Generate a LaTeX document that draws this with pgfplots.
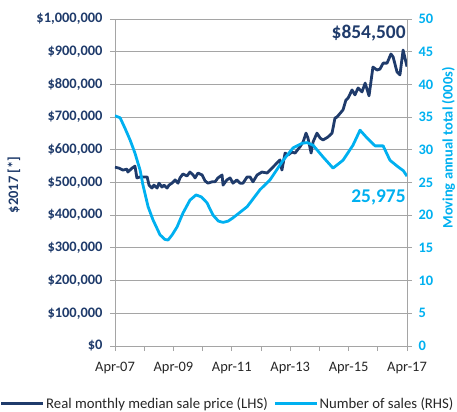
\documentclass[border=0pt]{standalone}
\usepackage{pgfplots}
\pgfplotsset{compat=1.18}
\usepackage{fontspec}
\setmainfont{Carlito}
\definecolor{dblue}{RGB}{31,59,107}
\definecolor{lblue}{RGB}{0,176,240}
\definecolor{gridc}{RGB}{165,165,165}
\begin{document}
\begin{tikzpicture}
\begin{axis}[name=ax1, at={(0,0)}, anchor=south west, scale only axis,
  width=292bp, height=327bp,
  xmin=0, xmax=120, ymin=0, ymax=1000000,
  axis x line*=bottom, axis y line*=left,
  axis line style={draw=gridc, line width=0.9bp},
  xtick={0,12,...,120},
  xticklabels={Apr-07,,Apr-09,,Apr-11,,Apr-13,,Apr-15,,Apr-17},
  ytick={0,100000,...,1000000},
  yticklabels={{\$0},{\$100,000},{\$200,000},{\$300,000},{\$400,000},{\$500,000},{\$600,000},{\$700,000},{\$800,000},{\$900,000},{\$1,000,000}},
  scaled y ticks=false,
  ymajorgrids, grid style={draw=gridc, line width=0.9bp},
  tick style={draw=gridc, line width=0.9bp},
  tick align=outside, major tick length=5bp,
  yticklabel style={font=\fontsize{14.5}{16}\selectfont\bfseries, text=dblue, xshift=-4bp},
  xticklabel style={font=\fontsize{14.5}{16}\selectfont, text=black!85, yshift=-8bp},
]
\addplot[dblue, line width=2.8bp, line join=round] coordinates {
(0,547000)(1.6,544000)(3.3,538000)(4.9,541000)(5.3,532000)(7.0,544000)(8.2,550000)(9.0,514000)(10.3,517000)(11.5,517000)(13.2,517000)(14.0,492000)(15.2,483000)(16.0,492000)(17.3,483000)(18.1,498000)(19.3,486000)(20.1,492000)(21.4,483000)(22.2,492000)(23.4,498000)(24.7,508000)(25.9,498000)(26.7,514000)(27.9,526000)(29.6,520000)(30.8,532000)(32.1,523000)(32.9,514000)(34.1,529000)(35.8,523000)(37.0,505000)(38.2,498000)(39.9,502000)(41.1,502000)(42.3,514000)(44.0,523000)(44.4,492000)(46.0,508000)(47.3,514000)(48.5,498000)(50.1,508000)(51.4,498000)(52.6,498000)(54.3,517000)(55.5,517000)(56.7,502000)(58.4,523000)(60.4,532000)(62.5,529000)(64.5,544000)(66.6,560000)(67.8,569000)(68.6,538000)(69.9,590000)(71.1,584000)(72.7,593000)(74.0,590000)(76.0,609000)(77.3,624000)(78.5,651000)(79.3,636000)(80.6,590000)(81.4,624000)(83.0,651000)(84.3,636000)(85.5,630000)(87.5,639000)(89.2,651000)(90.4,697000)(91.2,700000)(93.7,722000)(94.9,752000)(95.8,758000)(97.4,783000)(98.6,768000)(99.9,789000)(101.5,777000)(102.8,804000)(104.4,765000)(106.0,853000)(107.7,844000)(108.9,847000)(110.2,865000)(111.8,865000)(113.4,893000)(114.3,884000)(115.9,838000)(117.1,829000)(118.4,905000)(120,854500)
};
\node[anchor=base east, font=\fontsize{19.5}{21}\selectfont\bfseries, text=dblue, inner sep=0pt] at (axis cs:119.5,939000) {\$854,500};
\end{axis}
\begin{axis}[name=ax2, at={(0,0)}, anchor=south west, scale only axis,
  width=292bp, height=327bp,
  xmin=0, xmax=120, ymin=0, ymax=50,
  axis x line=none, axis y line*=right,
  axis line style={draw=gridc, line width=0.9bp},
  ytick={0,5,...,50},
  tick style={draw=gridc, line width=0.9bp},
  tick align=outside, major tick length=5bp,
  /pgf/number format/assume math mode=true,
  yticklabel style={font=\fontsize{14.5}{16}\selectfont\bfseries, text=lblue, xshift=3bp},
  legend style={at={(0.385,-0.177)}, anchor=center, draw=none, fill=none,
    font=\fontsize{14.8}{16}\selectfont, text=black!85,
    /tikz/every even column/.append style={column sep=4bp},
    inner sep=0pt, nodes={inner xsep=1.5bp}},
  legend columns=2,
  legend image code/.code={\draw[#1] (0bp,0bp) -- (42bp,0bp);},
]
\addlegendimage{dblue, line width=2.8bp}
\addlegendentry{Real monthly median sale price (LHS)}
\addplot[lblue, line width=2.8bp, line join=round] coordinates {
(0,35.2)(2.1,34.9)(4.1,33.3)(6.2,31.5)(8.2,29.5)(10.3,26.9)(11.5,24.6)(13.6,21.3)(15.6,19.3)(18.5,17.0)(20.5,16.3)(21.8,16.2)(23.5,17.0)(25.5,18.2)(27.9,20.3)(30.8,22.3)(33.3,23.1)(35.5,22.8)(37.8,21.9)(40.3,20.0)(42.5,19.1)(44.4,18.9)(46.5,19.1)(48.5,19.6)(54.3,21.3)(59.6,23.9)(63.7,25.4)(69.1,28.4)(73.2,30.3)(76.9,31.0)(79,31.1)(81.4,30.7)(85.5,28.9)(89.6,27.2)(93.7,28.4)(97.8,30.7)(100.7,33.0)(103.6,31.8)(106.9,30.6)(110.2,30.6)(113.0,28.4)(116.3,27.4)(118.5,26.8)(120,25.975)
};
\addlegendentry{Number of sales (RHS)}
\node[anchor=base east, font=\fontsize{19.5}{21}\selectfont\bfseries, text=lblue, inner sep=0pt] at (axis cs:119.5,21.9) {25,975};
\end{axis}
\node[rotate=90, font=\fontsize{14.5}{16}\selectfont\bfseries, text=dblue] at ([xshift=-101bp,yshift=161bp]ax1.south west) {\$2017 [*]};
\node[rotate=90, font=\fontsize{14.5}{16}\selectfont\bfseries, text=lblue, inner sep=0pt] at ([xshift=41.5bp,yshift=198bp]ax1.south east) {Moving annual total (000s)};
\pgfresetboundingbox
\useasboundingbox ([xshift=-115bp,yshift=-66bp]ax1.south west) rectangle ([xshift=50bp,yshift=19bp]ax1.north east);
\end{tikzpicture}
\end{document}
